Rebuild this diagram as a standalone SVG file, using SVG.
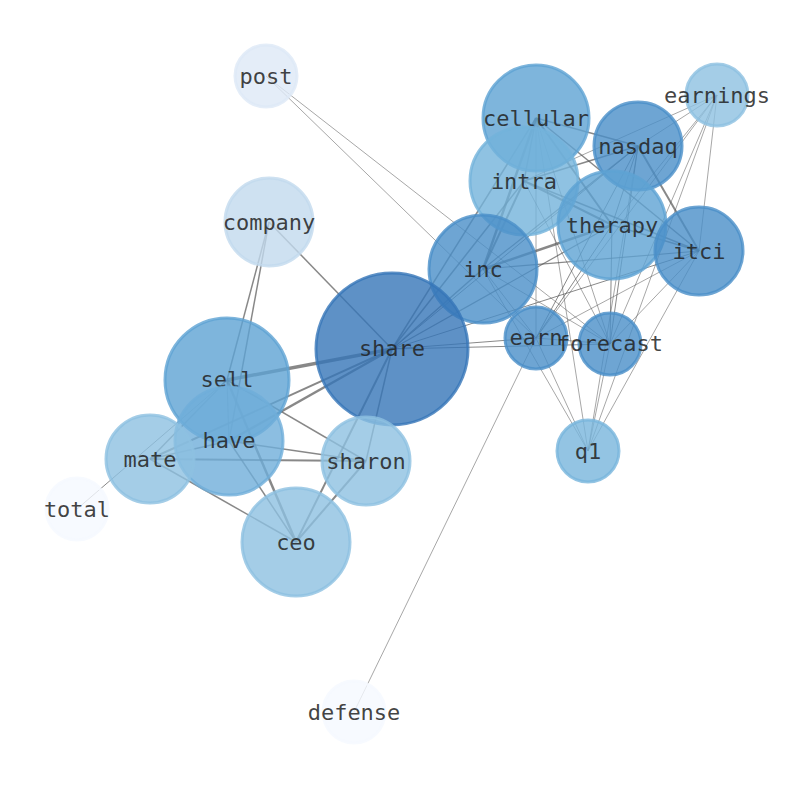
<svg xmlns="http://www.w3.org/2000/svg" width="794" height="790" viewBox="0 0 794 790">
<style>
.e{stroke:#555;stroke-opacity:0.7;fill:none}
.t{stroke:#555;stroke-opacity:0.65;stroke-width:0.8;fill:none}
.n{fill-opacity:0.8;stroke-opacity:0.8;stroke-width:3}
.l{font-family:"DejaVu Sans Mono",monospace;font-size:22px;fill:#222;fill-opacity:0.85;text-anchor:middle;dominant-baseline:central}
</style>
<rect width="794" height="790" fill="#fff"/>
<g id="connectors">
<line class="e" stroke-width="3.5" x1="392" y1="349" x2="227" y2="380"/>
<line class="e" stroke-width="2.5" x1="392" y1="349" x2="229" y2="441"/>
<line class="e" stroke-width="2" x1="392" y1="349" x2="150" y2="459"/>
<line class="e" stroke-width="1.5" x1="392" y1="349" x2="269" y2="222"/>
<line class="e" stroke-width="1.5" x1="392" y1="349" x2="366" y2="461"/>
<line class="e" stroke-width="2" x1="392" y1="349" x2="296" y2="542"/>
<line class="e" stroke-width="1.2" x1="227" y1="380" x2="229" y2="441"/>
<line class="e" stroke-width="1.5" x1="227" y1="380" x2="150" y2="459"/>
<line class="e" stroke-width="1.5" x1="227" y1="380" x2="366" y2="461"/>
<line class="e" stroke-width="2.5" x1="227" y1="380" x2="296" y2="542"/>
<line class="e" stroke-width="1.5" x1="227" y1="380" x2="269" y2="222"/>
<line class="e" stroke-width="1.5" x1="229" y1="441" x2="269" y2="222"/>
<line class="e" stroke-width="1.5" x1="229" y1="441" x2="150" y2="459"/>
<line class="e" stroke-width="1.5" x1="229" y1="441" x2="366" y2="461"/>
<line class="e" stroke-width="1.5" x1="229" y1="441" x2="296" y2="542"/>
<line class="e" stroke-width="2" x1="150" y1="459" x2="366" y2="461"/>
<line class="e" stroke-width="1.5" x1="150" y1="459" x2="296" y2="542"/>
<line class="e" stroke-width="2" x1="366" y1="461" x2="296" y2="542"/>
<line class="e" stroke-width="1" stroke-opacity="0.45" x1="77" y1="509" x2="227" y2="380"/>
<line class="e" stroke-width="1.5" x1="392" y1="349" x2="483" y2="269"/>
<line class="e" stroke-width="1.5" x1="392" y1="349" x2="524" y2="181"/>
<line class="e" stroke-width="1.5" x1="392" y1="349" x2="536" y2="118"/>
<line class="e" stroke-width="1.2" x1="392" y1="349" x2="612" y2="225"/>
<line class="e" stroke-width="1" x1="392" y1="349" x2="699" y2="251"/>
<line class="e" stroke-width="1" x1="392" y1="349" x2="536" y2="338"/>
<line class="e" stroke-width="1" x1="392" y1="349" x2="610" y2="344"/>
<line class="e" stroke-width="1" x1="392" y1="349" x2="638" y2="146"/>
<line class="e" stroke-width="1.5" x1="536" y1="118" x2="524" y2="181"/>
<line class="e" stroke-width="2.5" x1="536" y1="118" x2="483" y2="269"/>
<line class="e" stroke-width="2" x1="536" y1="118" x2="612" y2="225"/>
<line class="e" stroke-width="1.5" x1="536" y1="118" x2="638" y2="146"/>
<line class="e" stroke-width="1.5" x1="536" y1="118" x2="699" y2="251"/>
<line class="t" x1="536" y1="118" x2="536" y2="338"/>
<line class="t" x1="536" y1="118" x2="610" y2="344"/>
<line class="t" x1="536" y1="118" x2="588" y2="451"/>
<line class="e" stroke-width="2" x1="524" y1="181" x2="483" y2="269"/>
<line class="e" stroke-width="2" x1="524" y1="181" x2="612" y2="225"/>
<line class="e" stroke-width="1.5" x1="524" y1="181" x2="638" y2="146"/>
<line class="e" stroke-width="1.5" x1="524" y1="181" x2="699" y2="251"/>
<line class="t" x1="524" y1="181" x2="717" y2="95"/>
<line class="t" x1="524" y1="181" x2="610" y2="344"/>
<line class="e" stroke-width="2.5" x1="483" y1="269" x2="612" y2="225"/>
<line class="e" stroke-width="1.2" x1="483" y1="269" x2="638" y2="146"/>
<line class="e" stroke-width="1.2" x1="483" y1="269" x2="699" y2="251"/>
<line class="t" x1="483" y1="269" x2="536" y2="338"/>
<line class="t" x1="483" y1="269" x2="610" y2="344"/>
<line class="t" x1="483" y1="269" x2="588" y2="451"/>
<line class="e" stroke-width="1" x1="612" y1="225" x2="638" y2="146"/>
<line class="e" stroke-width="1.5" x1="612" y1="225" x2="699" y2="251"/>
<line class="e" stroke-width="1" x1="612" y1="225" x2="610" y2="344"/>
<line class="e" stroke-width="1" x1="612" y1="225" x2="536" y2="338"/>
<line class="t" x1="612" y1="225" x2="717" y2="95"/>
<line class="e" stroke-width="2" x1="638" y1="146" x2="699" y2="251"/>
<line class="t" x1="638" y1="146" x2="717" y2="95"/>
<line class="e" stroke-width="1" x1="638" y1="146" x2="610" y2="344"/>
<line class="e" stroke-width="1" x1="638" y1="146" x2="536" y2="338"/>
<line class="t" x1="638" y1="146" x2="588" y2="451"/>
<line class="t" x1="699" y1="251" x2="610" y2="344"/>
<line class="t" x1="699" y1="251" x2="536" y2="338"/>
<line class="t" x1="699" y1="251" x2="588" y2="451"/>
<line class="t" x1="699" y1="251" x2="717" y2="95"/>
<line class="t" x1="717" y1="95" x2="610" y2="344"/>
<line class="t" x1="717" y1="95" x2="536" y2="338"/>
<line class="t" x1="717" y1="95" x2="588" y2="451"/>
<line class="t" x1="610" y1="344" x2="588" y2="451"/>
<line class="t" x1="536" y1="338" x2="588" y2="451"/>
<line class="t" x1="536" y1="338" x2="610" y2="344"/>
<line class="t" x1="266" y1="76" x2="536" y2="338"/>
<line class="t" x1="266" y1="76" x2="610" y2="344"/>
<line class="t" x1="354" y1="712" x2="536" y2="338"/>
</g>
<g id="node-post"><circle class="n" cx="266" cy="76" r="31" fill="#dde9f6" stroke="#dde9f6"/><text class="l" x="266" y="76">post</text></g>
<g id="node-company"><circle class="n" cx="269" cy="222" r="44" fill="#c2daee" stroke="#c2daee"/><text class="l" x="269" y="222">company</text></g>
<g id="node-total"><circle class="n" cx="77" cy="509" r="31" fill="#f5f9ff" stroke="#f5f9ff"/><text class="l" x="77" y="509">total</text></g>
<g id="node-defense"><circle class="n" cx="354" cy="712" r="31" fill="#f5f9ff" stroke="#f5f9ff"/><text class="l" x="354" y="712">defense</text></g>
<g id="node-earnings"><circle class="n" cx="717" cy="95" r="31" fill="#8dc0e1" stroke="#8dc0e1"/><text class="l" x="717" y="95">earnings</text></g>
<g id="node-cellular"><circle class="n" cx="536" cy="118" r="53" fill="#5ea3d3" stroke="#5ea3d3"/><text class="l" x="536" y="118">cellular</text></g>
<g id="node-intra"><circle class="n" cx="524" cy="181" r="54" fill="#73b3db" stroke="#73b3db"/><text class="l" x="524" y="181">intra</text></g>
<g id="node-nasdaq"><circle class="n" cx="638" cy="146" r="44" fill="#4a8fc8" stroke="#4a8fc8"/><text class="l" x="638" y="146">nasdaq</text></g>
<g id="node-therapy"><circle class="n" cx="612" cy="225" r="54" fill="#5ea3d3" stroke="#5ea3d3"/><text class="l" x="612" y="225">therapy</text></g>
<g id="node-itci"><circle class="n" cx="699" cy="251" r="44" fill="#4a8fc8" stroke="#4a8fc8"/><text class="l" x="699" y="251">itci</text></g>
<g id="node-inc"><circle class="n" cx="483" cy="269" r="54" fill="#4a8fc8" stroke="#4a8fc8"/><text class="l" x="483" y="269">inc</text></g>
<g id="node-share"><circle class="n" cx="392" cy="349" r="76" fill="#3676b8" stroke="#3676b8"/><text class="l" x="392" y="348">share</text></g>
<g id="node-earn"><circle class="n" cx="536" cy="338" r="31" fill="#4a8fc8" stroke="#4a8fc8"/><text class="l" x="536" y="337">earn</text></g>
<g id="node-forecast"><circle class="n" cx="610" cy="344" r="31" fill="#4a8fc8" stroke="#4a8fc8"/><text class="l" x="610" y="343">forecast</text></g>
<g id="node-q1"><circle class="n" cx="588" cy="451" r="31" fill="#78b5dc" stroke="#78b5dc"/><text class="l" x="588" y="451">q1</text></g>
<g id="node-sell"><circle class="n" cx="227" cy="380" r="62" fill="#5ea3d3" stroke="#5ea3d3"/><text class="l" x="227" y="379">sell</text></g>
<g id="node-have"><circle class="n" cx="229" cy="441" r="54" fill="#6faed9" stroke="#6faed9"/><text class="l" x="229" y="440">have</text></g>
<g id="node-mate"><circle class="n" cx="150" cy="459" r="44" fill="#8dc0e1" stroke="#8dc0e1"/><text class="l" x="150" y="459">mate</text></g>
<g id="node-sharon"><circle class="n" cx="366" cy="461" r="44" fill="#8dc0e1" stroke="#8dc0e1"/><text class="l" x="366" y="461">sharon</text></g>
<g id="node-ceo"><circle class="n" cx="296" cy="542" r="54" fill="#8dc0e1" stroke="#8dc0e1"/><text class="l" x="296" y="542">ceo</text></g>
</svg>
